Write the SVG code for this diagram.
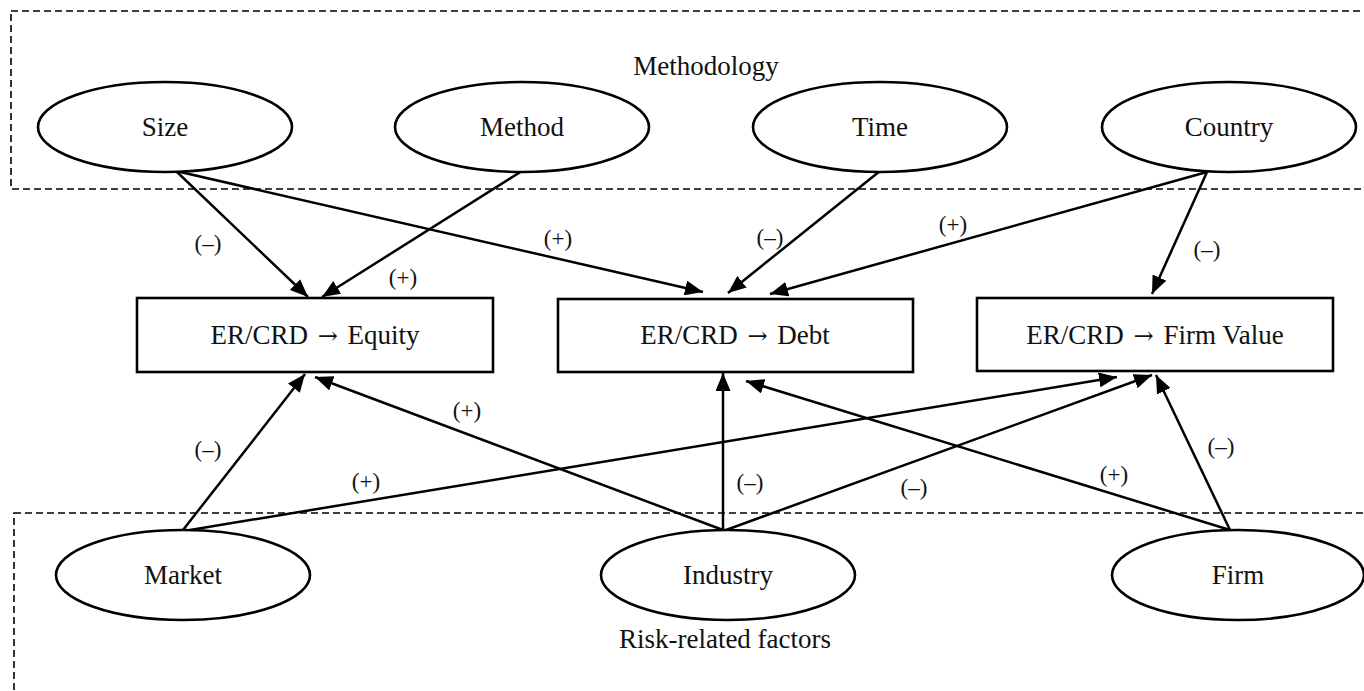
<svg xmlns="http://www.w3.org/2000/svg" width="1364" height="691" viewBox="0 0 1364 691">
<style>
.bg{fill:#fff}
.dash{fill:none;stroke:#000;stroke-width:1.6;stroke-dasharray:7 4}
.node{fill:#fff;stroke:#000;stroke-width:2.6}
.t{font-family:"Liberation Serif","Times New Roman",serif;font-size:27px;fill:#111;text-anchor:middle}
.ar{font-family:"DejaVu Serif","DejaVu Sans",serif;font-size:24px}
.g{font-family:"Liberation Serif","Times New Roman",serif;font-size:27px;fill:#111;text-anchor:middle}
.lbl{font-family:"Liberation Serif","Times New Roman",serif;font-size:23px;fill:#111;text-anchor:middle}
.edge{fill:none;stroke:#000;stroke-width:2.5;marker-end:url(#ah)}
</style>
<defs>
<marker id="ah" markerUnits="userSpaceOnUse" markerWidth="19" markerHeight="15" refX="18" refY="7.5" orient="auto">
<path d="M0,0 L18,7.5 L0,15 z" fill="#000"/>
</marker>
</defs>
<rect class="bg" x="0" y="0" width="1364" height="691"/>
<g id="group-methodology">
<rect class="dash" x="11" y="11" width="1400" height="178"/>
<text class="g" x="706" y="75">Methodology</text>
</g>
<g id="group-risk">
<rect class="dash" x="14" y="513" width="1400" height="300"/>
<text class="g" x="725" y="648">Risk-related factors</text>
</g>
<g id="connectors">
<line class="edge" x1="176" y1="171" x2="308" y2="297"/>
<line class="edge" x1="176" y1="171" x2="703" y2="292"/>
<line class="edge" x1="522" y1="171" x2="322" y2="297"/>
<line class="edge" x1="880" y1="171" x2="728" y2="293"/>
<line class="edge" x1="1207" y1="172" x2="770" y2="294"/>
<line class="edge" x1="1207" y1="172" x2="1152" y2="294"/>
<line class="edge" x1="183" y1="530" x2="305" y2="374"/>
<line class="edge" x1="723" y1="530" x2="315" y2="377"/>
<line class="edge" x1="190" y1="530" x2="1117" y2="377"/>
<line class="edge" x1="723" y1="530" x2="723" y2="373"/>
<line class="edge" x1="726" y1="530" x2="1152" y2="375"/>
<line class="edge" x1="1230" y1="530" x2="746" y2="381"/>
<line class="edge" x1="1230" y1="530" x2="1156" y2="375"/>
<text class="lbl" x="208" y="251">(–)</text>
<text class="lbl" x="403" y="285">(+)</text>
<text class="lbl" x="558" y="246">(+)</text>
<text class="lbl" x="770" y="245">(–)</text>
<text class="lbl" x="953" y="232">(+)</text>
<text class="lbl" x="1207" y="257">(–)</text>
<text class="lbl" x="208" y="457">(–)</text>
<text class="lbl" x="366" y="489">(+)</text>
<text class="lbl" x="467" y="418">(+)</text>
<text class="lbl" x="750" y="490">(–)</text>
<text class="lbl" x="914" y="495">(–)</text>
<text class="lbl" x="1114" y="482">(+)</text>
<text class="lbl" x="1221" y="454">(–)</text>
</g>
<g id="node-size"><ellipse class="node" cx="165" cy="127" rx="127" ry="45"/><text class="t" x="165" y="136">Size</text></g>
<g id="node-method"><ellipse class="node" cx="522" cy="127" rx="127" ry="45"/><text class="t" x="522" y="136">Method</text></g>
<g id="node-time"><ellipse class="node" cx="880" cy="127" rx="127" ry="45"/><text class="t" x="880" y="136">Time</text></g>
<g id="node-country"><ellipse class="node" cx="1229" cy="127" rx="127" ry="45"/><text class="t" x="1229" y="136">Country</text></g>
<g id="node-equity"><rect class="node" x="137" y="298" width="356" height="74"/><text class="t" x="315" y="344">ER/CRD <tspan class="ar" dx="3">→</tspan><tspan dx="3"> Equity</tspan></text></g>
<g id="node-debt"><rect class="node" x="558" y="299" width="355" height="73"/><text class="t" x="735" y="344">ER/CRD <tspan class="ar" dx="3">→</tspan><tspan dx="3"> Debt</tspan></text></g>
<g id="node-firmvalue"><rect class="node" x="977" y="298" width="356" height="73"/><text class="t" x="1155" y="344">ER/CRD <tspan class="ar" dx="3">→</tspan><tspan dx="3"> Firm Value</tspan></text></g>
<g id="node-market"><ellipse class="node" cx="183" cy="575" rx="127" ry="45"/><text class="t" x="183" y="584">Market</text></g>
<g id="node-industry"><ellipse class="node" cx="728" cy="575" rx="127" ry="45"/><text class="t" x="728" y="584">Industry</text></g>
<g id="node-firm"><ellipse class="node" cx="1238" cy="575" rx="126" ry="45"/><text class="t" x="1238" y="584">Firm</text></g>
</svg>
